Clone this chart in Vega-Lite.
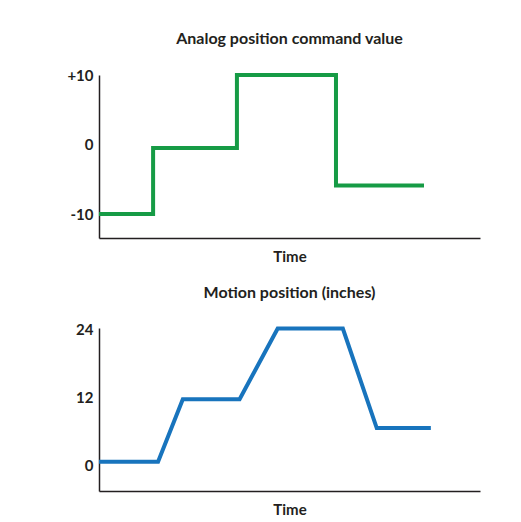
{
  "$schema": "https://vega.github.io/schema/vega-lite/v6.json",
  "padding": {"left": 66, "top": 31, "right": 5, "bottom": 5},
  "background": "white",
  "config": {
    "font": "Lato",
    "view": {"stroke": null},
    "title": {"fontSize": 16, "fontWeight": "bold", "color": "#231f20", "anchor": "middle", "offset": 20},
    "axis": {"domainColor": "#231f20", "domainWidth": 1.5, "ticks": false, "grid": false, "labelFont": "Lato", "labelFontSize": 15, "labelFontWeight": "bold", "labelColor": "#231f20", "labelPadding": 6, "titleFont": "Lato", "titleFontSize": 15, "titleFontWeight": "bold", "titleColor": "#231f20"},
    "concat": {"spacing": 20}
  },
  "datasets": {
    "command": [
      {"t": 0, "v": -10},
      {"t": 14.2, "v": -0.5},
      {"t": 36.2, "v": 10},
      {"t": 62.2, "v": -5.9},
      {"t": 85.3, "v": -5.9}
    ],
    "motion": [
      {"t": 0, "p": 0.75},
      {"t": 15.5, "p": 0.75},
      {"t": 22.0, "p": 11.7},
      {"t": 36.9, "p": 11.7},
      {"t": 46.9, "p": 24.1},
      {"t": 64.0, "p": 24.1},
      {"t": 72.9, "p": 6.65},
      {"t": 87.1, "p": 6.65}
    ]
  },
  "vconcat": [
    {
      "title": "Analog position command value",
      "width": 381,
      "height": 163,
      "data": {"name": "command"},
      "mark": {"type": "line", "interpolate": "step-after", "color": "#169b45", "strokeWidth": 4, "strokeJoin": "miter", "strokeCap": "butt"},
      "encoding": {
        "x": {"field": "t", "type": "quantitative", "scale": {"domain": [0, 100], "nice": false, "zero": false}, "axis": {"labels": false, "title": "Time", "titlePadding": 11}},
        "y": {"field": "v", "type": "quantitative", "scale": {"domain": [-13.45, 10], "nice": false, "zero": false}, "axis": {"values": [-10, 0, 10], "labelExpr": "datum.value > 0 ? '+' + datum.value : '' + datum.value", "title": null}}
      }
    },
    {
      "title": "Motion position (inches)",
      "width": 381,
      "height": 163,
      "data": {"name": "motion"},
      "mark": {"type": "line", "color": "#1874bd", "strokeWidth": 4, "strokeJoin": "miter", "strokeCap": "butt"},
      "encoding": {
        "x": {"field": "t", "type": "quantitative", "scale": {"domain": [0, 100], "nice": false, "zero": false}, "axis": {"labels": false, "title": "Time", "titlePadding": 11}},
        "y": {"field": "p", "type": "quantitative", "scale": {"domain": [-4.4, 24.2], "nice": false, "zero": false}, "axis": {"values": [0, 12, 24], "title": null}}
      }
    }
  ]
}
